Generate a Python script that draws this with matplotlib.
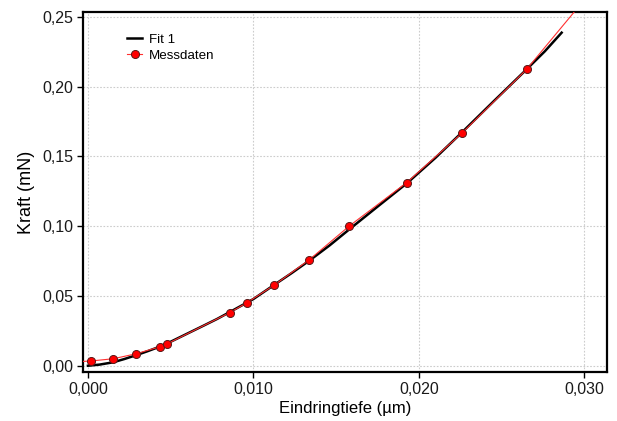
import numpy as np
import matplotlib
matplotlib.use('Agg')
import matplotlib.pyplot as plt
from matplotlib.ticker import FuncFormatter, MultipleLocator

plt.rcParams['font.family'] = ['Liberation Sans', 'DejaVu Sans']

# Messdaten (Eindringtiefe in um, Kraft in mN)
depth = [0.00018, 0.00153, 0.00292, 0.00435, 0.00475, 0.00856, 0.0096,
         0.01126, 0.01337, 0.01579, 0.01925, 0.02262, 0.0265]
force = [0.0034, 0.0050, 0.0086, 0.0136, 0.0155, 0.0380, 0.0451,
         0.0578, 0.0759, 0.1001, 0.1311, 0.1669, 0.2123]

# red connecting line runs a little past the first and last point
line_x = [-0.0003] + depth + [0.0297]
line_y = [0.0031] + force + [0.2580]

# Fit 1
fit_x = [0.0, 0.0007, 0.0015, 0.0022, 0.0029, 0.0036, 0.0043, 0.0050,
         0.0060, 0.0070, 0.0078, 0.0085, 0.0100, 0.0112, 0.0123, 0.0134,
         0.0146, 0.0158, 0.0175, 0.0193, 0.0210, 0.0226, 0.0245, 0.0265,
         0.0276, 0.02862]
fit_y = [0.0, 0.0008, 0.0024, 0.0048, 0.0075, 0.0104, 0.0135, 0.0172,
         0.0230, 0.0288, 0.0335, 0.0380, 0.0478, 0.0575, 0.0663, 0.0755,
         0.0862, 0.0978, 0.1140, 0.1310, 0.1490, 0.1672, 0.1893, 0.2123,
         0.2252, 0.2386]

fig = plt.figure(figsize=(6.17, 4.21), dpi=100)
ax = fig.add_axes([0.1345, 0.1157, 0.8493, 0.8558])

ax.plot(fit_x, fit_y, color='black', lw=1.8, label='Fit 1', zorder=3)
ax.plot(line_x, line_y, color='#ff3030', lw=0.8, zorder=4)
ax.plot(depth, force, ls='none', marker='o', ms=5.8, mfc='#ff0000',
        mec='#5a1a1a', mew=0.7, zorder=5)
# legend entry for the measured data (line + marker)
ax.plot([], [], color='#ff3030', lw=0.8, marker='o', ms=5.8,
        mfc='#ff0000', mec='#5a1a1a', mew=0.7, label='Messdaten')

ax.set_xlim(-0.0003, 0.03136)
ax.set_ylim(-0.0047, 0.2534)
ax.xaxis.set_major_locator(MultipleLocator(0.01))
ax.yaxis.set_major_locator(MultipleLocator(0.05))
ax.xaxis.set_major_formatter(FuncFormatter(lambda v, p: ('%.3f' % v).replace('.', ',')))
ax.yaxis.set_major_formatter(FuncFormatter(lambda v, p: ('%.2f' % v).replace('.', ',')))

ax.grid(True, color='#cccccc', ls=(0, (1.5, 1.5)), lw=0.8)
ax.set_axisbelow(True)
for s in ax.spines.values():
    s.set_linewidth(1.6)
ax.tick_params(direction='out', length=4, width=1, labelsize=11.5,
               colors='black', labelcolor='#1a1a1a', pad=3)

ax.set_xlabel('Eindringtiefe (µm)', fontsize=12, labelpad=3)
ax.set_ylabel('Kraft (mN)', fontsize=13, labelpad=5)

ax.legend(loc='upper left', bbox_to_anchor=(0.084, 0.94), frameon=False,
          fontsize=9.6, handlelength=1.15, handletextpad=0.5,
          labelspacing=0.25, borderpad=0, borderaxespad=0)

fig.savefig('out.png', dpi=100)
